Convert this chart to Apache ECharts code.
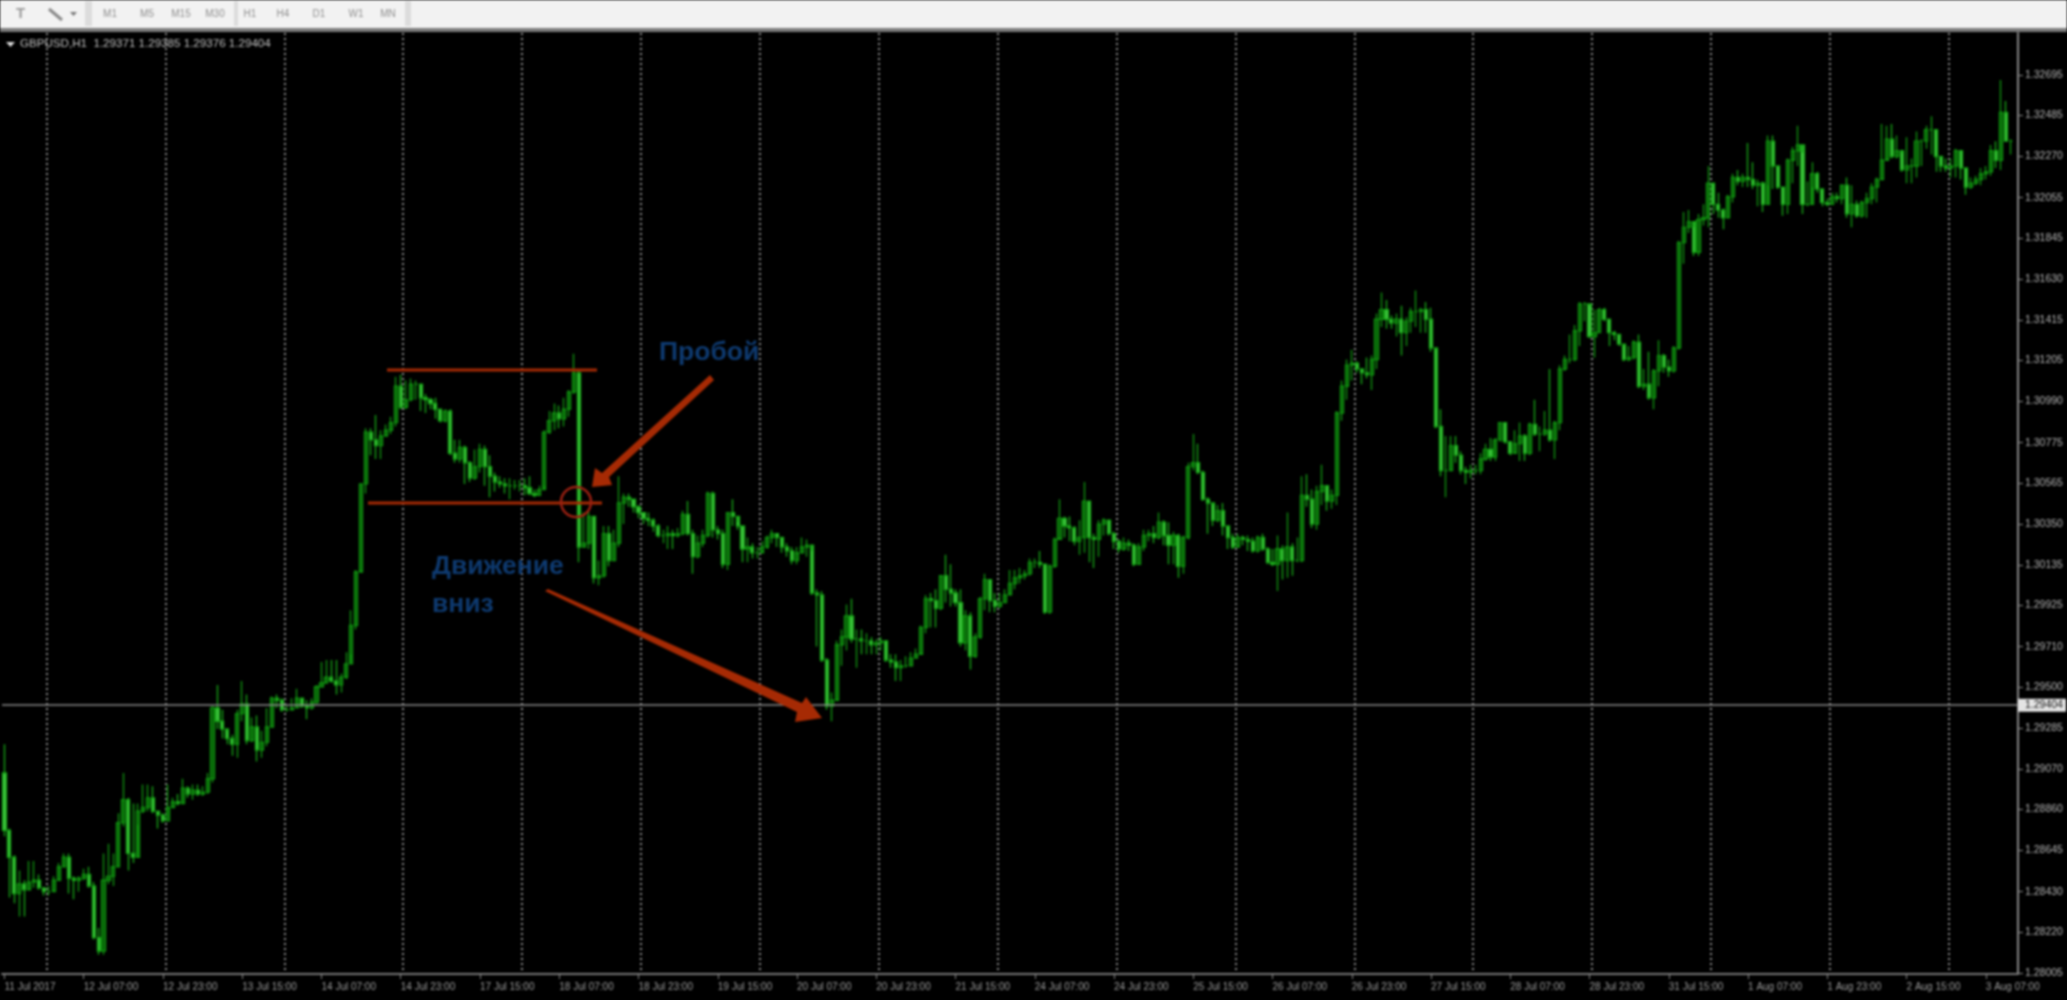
<!DOCTYPE html>
<html>
<head>
<meta charset="utf-8">
<title>GBPUSD,H1</title>
<script src="https://cdn.jsdelivr.net/npm/echarts@6/dist/echarts.min.js"></script>
<style>
html, body { margin: 0; padding: 0; background: #000; }
#chart { width: 2067px; height: 1000px; filter: blur(0.9px); }
</style>
</head>
<body>
<div id="chart"></div>
<script>
// prices are typed as price x 10000
var firstOpen = 12905;
var closes = [
12875,12861,12842,12847,12844,12848,12849,12845,12843,12843,
12849,12856,12861,12850,12849,12850,12852,12846,12819,12812,
12849,12851,12856,12879,12891,12863,12861,12885,12887,12892,
12885,12883,12880,12887,12890,12889,12897,12894,12896,12894,
12895,12902,12939,12932,12928,12923,12920,12936,12941,12922,
12929,12917,12921,12929,12944,12943,12938,12938,12939,12944,
12940,12939,12942,12950,12952,12955,12953,12951,12955,12962,
12982,13010,13056,13083,13079,13076,13081,13084,13088,13107,
13096,13100,13108,13108,13101,13100,13098,13095,13089,13094,
13072,13069,13075,13067,13059,13065,13074,13065,13060,13057,
13056,13055,13055,13055,13055,
13054,13051,13050,13053,13083,13089,
13093,13090,13095,13104,13114,13023,13025,13039,13007,13008,
13030,13016,13025,13046,13049,13048,13044,13041,13038,13037,
13034,13029,13029,13030,13029,13030,13040,13030,13018,13025,
13029,13051,13032,13030,13014,13041,13039,13034,13022,13023,
13020,13020,13023,13028,13030,13028,13023,13021,13016,13020,
13023,13024,12999,12998,12964,12940,12943,12972,12976,12987,
12975,12975,12974,12974,12972,12973,12974,12964,12963,12960,
12961,12961,12965,12967,12981,12996,12995,12991,13008,13001,
12999,12994,12973,12987,12966,12976,12996,13006,12995,12992,
12994,12998,13004,13007,13008,13009,13015,13015,13014,12989,
13013,13027,13038,13034,13033,13026,13028,13047,13028,13027,
13035,13037,13030,13026,13022,13025,13024,13014,13023,13029,
13030,13028,13036,13029,13024,13029,13013,13028,13065,13067,
13062,13048,13046,13037,13042,13034,13028,13023,13028,13027,
13026,13021,13028,13022,13015,13014,13022,13016,13023,13016,
13016,13050,13048,13035,13052,13055,13047,13050,13093,13107,
13118,13119,13116,13114,13113,13121,13142,13147,13142,13140,
13142,13135,13141,13146,13146,13147,13142,13127,13086,13063,
13063,13076,13071,13063,13062,13063,
13063,13069,13074,13070,13079,
13088,13078,13072,13077,13081,13072,13087,13082,13082,13084,
13079,13088,13116,13121,13121,13136,13150,13150,13133,13135,
13147,13142,13135,13134,13129,13121,13122,13130,13107,13108,
13101,13115,13123,13117,13115,13127,
13182,13190,13193,13177,
13194,13195,13213,13202,13199,13195,13206,13216,13214,13216,
13215,13212,13213,13202,13235,13222,13211,13202,13225,13230,
13233,13202,13202,13218,13210,13203,13202,13206,13205,13212,
13197,13202,13196,13203,13205,13211,13215,13225,13236,13227,
13230,13220,13222,13222,13235,13235,13241,13241,13227,13222,
13221,13222,13230,13221,13211,13213,13215,13218,13219,13230,
13225,13250,13235,13235
];
var highs = [
12920,12876,12862,12854,12849,12859,12859,12852,12845,12846,
12851,12858,12863,12863,12851,12851,12855,12856,12848,12824,
12863,12868,12863,12884,12905,12892,12889,12889,12899,12899,
12898,12885,12884,12899,12892,12894,12902,12898,12899,12899,
12898,12905,12940,12951,12938,12927,12925,12938,12953,12946,
12934,12935,12927,12939,12945,12946,12944,12940,12944,12949,
12944,12943,12944,12951,12963,12964,12964,12964,12957,12968,
12990,13011,13056,13085,13085,13092,13084,13087,13091,13112,
13113,13110,13111,13110,13108,13103,13101,13101,13095,13095,
13095,13079,13079,13076,13068,13074,13077,13076,13071,13062,
13060,13059,13059,13058,13058,
13059,13060,13053,13055,13084,13094,
13098,13097,13101,13105,13124,13115,13041,13042,13039,13016,
13034,13034,13032,13060,13051,13051,13048,13045,13041,13041,
13038,13035,13032,13034,13032,13033,13042,13047,13032,13029,
13032,13052,13052,13034,13032,13041,13048,13036,13034,13028,
13025,13023,13026,13029,13032,13030,13028,13025,13023,13023,
13028,13027,13021,13001,13000,12965,12947,12974,12980,12993,
12996,12980,12980,12978,12976,12975,12976,12974,12967,12967,
12964,12966,12968,12970,12982,12998,12999,13001,13008,13019,
13014,13001,13001,12990,12989,12978,12997,13009,13006,12999,
12999,13001,13011,13011,13012,13011,13017,13017,13021,13014,
13014,13028,13048,13039,13039,13034,13037,13057,13047,13030,
13037,13038,13037,13031,13027,13028,13027,13025,13025,13032,
13032,13034,13041,13037,13036,13031,13030,13029,13067,13082,
13077,13063,13049,13045,13045,13046,13034,13030,13030,13029,
13029,13028,13029,13030,13023,13022,13029,13024,13041,13025,
13028,13060,13061,13053,13055,13066,13055,13053,13094,13110,
13121,13126,13120,13116,13122,13123,13145,13156,13152,13144,
13145,13149,13143,13148,13157,13148,13151,13148,13126,13095,
13081,13081,13081,13073,13065,13066,
13066,13072,13077,13080,13080,
13088,13088,13078,13084,13088,13082,13088,13100,13086,13094,
13116,13089,13118,13123,13134,13139,13151,13151,13149,13147,
13148,13148,13142,13136,13134,13128,13128,13131,13134,13116,
13125,13116,13131,13124,13121,13128,
13183,13198,13199,13190,
13197,13202,13222,13213,13208,13200,13207,13218,13220,13218,
13234,13224,13215,13214,13238,13238,13222,13211,13226,13232,
13243,13229,13214,13224,13219,13210,13205,13208,13208,13212,
13216,13212,13204,13204,13208,13213,13216,13244,13243,13244,
13238,13229,13237,13226,13240,13236,13243,13248,13241,13227,
13226,13226,13231,13230,13221,13216,13217,13221,13222,13233,
13235,13267,13256,13236
];
var lows = [
12872,12840,12837,12830,12830,12844,12845,12844,12841,12841,
12844,12849,12856,12842,12839,12843,12849,12845,12818,12810,
12810,12847,12846,12856,12877,12854,12858,12878,12884,12885,
12884,12876,12879,12880,12887,12888,12890,12892,12891,12893,
12893,12894,12900,12928,12923,12920,12914,12913,12932,12920,
12921,12911,12913,12919,12929,12939,12937,12937,12938,12939,
12939,12933,12938,12941,12950,12952,12952,12946,12947,12954,
12967,12980,13011,13051,13071,13069,13069,13081,13082,13086,
13095,13095,13099,13100,13094,13093,13095,13090,13088,13088,
13071,13067,13067,13056,13057,13058,13062,13055,13049,13052,
13054,13051,13048,13053,13052,
13050,13050,13049,13050,13055,13082,
13084,13085,13086,13091,13103,13015,13023,13022,13004,13003,
13007,13013,13016,13023,13035,13044,13041,13038,13035,13034,
13031,13028,13025,13022,13022,13028,13029,13029,13009,13017,
13023,13028,13028,13027,13012,13011,13034,13032,13015,13015,
13017,13017,13021,13022,13025,13023,13020,13018,13014,13014,
13020,13018,12998,12971,12963,12938,12932,12943,12961,12969,
12973,12960,12967,12967,12967,12967,12969,12963,12960,12953,
12953,12960,12961,12965,12968,12978,12981,12981,12990,12994,
12992,12992,12971,12969,12959,12965,12975,12990,12989,12989,
12991,12994,12999,13001,13004,13006,13008,13012,13012,12988,
12988,13012,13028,13028,13026,13024,13019,13020,13015,13012,
13018,13029,13029,13022,13020,13021,13021,13013,13014,13021,
13026,13025,13027,13024,13014,13014,13007,13009,13027,13063,
13061,13047,13030,13034,13036,13029,13022,13022,13024,13024,
13021,13020,13020,13021,13014,13013,13000,13006,13007,13008,
13015,13015,13044,13033,13032,13045,13042,13043,13045,13089,
13100,13110,13114,13108,13111,13105,13116,13138,13137,13137,
13133,13123,13128,13135,13138,13135,13135,13125,13085,13060,
13049,13063,13067,13061,13056,13059,
13061,13061,13068,13068,13068,
13078,13077,13071,13072,13068,13068,13071,13081,13073,13081,
13078,13069,13084,13115,13119,13120,13128,13141,13132,13122,
13135,13141,13128,13131,13128,13120,13120,13121,13106,13105,
13100,13095,13107,13114,13112,13114,
13126,13171,13187,13175,
13175,13191,13190,13197,13195,13189,13195,13203,13212,13211,
13211,13210,13201,13198,13212,13210,13210,13196,13197,13213,
13222,13197,13201,13211,13208,13201,13201,13202,13203,13202,
13195,13190,13195,13195,13195,13202,13203,13215,13226,13226,
13226,13219,13213,13213,13216,13222,13231,13228,13219,13219,
13219,13216,13216,13215,13207,13210,13212,13212,13215,13217,
13221,13220,13235,13228
];
var timeLabels = ['11 Jul 2017','12 Jul 07:00','12 Jul 23:00','13 Jul 15:00','14 Jul 07:00','14 Jul 23:00',
    '17 Jul 15:00','18 Jul 07:00','18 Jul 23:00','19 Jul 15:00','20 Jul 07:00','20 Jul 23:00','21 Jul 15:00',
    '24 Jul 07:00','24 Jul 23:00','25 Jul 15:00','26 Jul 07:00','26 Jul 23:00','27 Jul 15:00','28 Jul 07:00',
    '28 Jul 23:00','31 Jul 15:00','1 Aug 07:00','1 Aug 23:00','2 Aug 15:00','3 Aug 07:00'];
var priceTicks = [1.32695,1.32485,1.32270,1.32055,1.31845,1.31630,1.31415,1.31205,1.30990,1.30775,1.30565,1.30350,
    1.30135,1.29925,1.29710,1.29500,1.29285,1.29070,1.28860,1.28645,1.28430,1.28220,1.28005];
var lastPrice = 1.29404;
var headerText = 'GBPUSD,H1  1.29371 1.29385 1.29376 1.29404';
var periods = [['M1',110],['M5',147],['M15',181],['M30',215],['H1',250],['H4',283],['D1',319],['W1',356],['MN',388]];

// bars per label and per day separator
var labelStep = 16, sepStep = 24, sepStart = 9;

var candles = [], cats = [];
for (var i = 0; i < closes.length; i++) {
    var o = i === 0 ? firstOpen : closes[i - 1];
    candles.push([o / 10000, closes[i] / 10000, lows[i] / 10000, highs[i] / 10000]);
    cats.push(String(i));
}
cats.push(String(closes.length)); // one free slot on the right

var red = '#a62a04', blue = '#0e3a70';
var graphics = [
    { type: 'rect', shape: { x: 0, y: 0, width: 2067, height: 28 }, style: { fill: '#f2f2f2' }, z: 50 },
    { type: 'rect', shape: { x: 0, y: 28, width: 2067, height: 4 }, style: { fill: '#7c7c7c' }, z: 50 },
    { type: 'rect', shape: { x: 85, y: 1, width: 7, height: 25 }, style: { fill: '#dcdcdc' }, z: 51 },
    { type: 'rect', shape: { x: 234, y: 1, width: 4, height: 25 }, style: { fill: '#dcdcdc' }, z: 51 },
    { type: 'rect', shape: { x: 405, y: 1, width: 6, height: 25 }, style: { fill: '#dcdcdc' }, z: 51 },
    { type: 'text', x: 16, y: 6, style: { text: 'T', font: 'bold 15px "Liberation Sans"', fill: '#9a9a9a' }, z: 51 },
    { type: 'polyline', shape: { points: [[49, 9], [62, 20]] }, style: { stroke: '#8a8a8a', lineWidth: 3 }, z: 51 },
    { type: 'polygon', shape: { points: [[70, 12], [77, 12], [73.5, 16]] }, style: { fill: '#777' }, z: 51 },
    { type: 'polygon', shape: { points: [[6, 42], [15, 42], [10.5, 47]] }, style: { fill: '#ddd' }, z: 51 },
    { type: 'text', x: 20, y: 38, style: { text: headerText, font: '11.6px "Liberation Sans"', fill: '#c0c0c0' }, z: 51 },

    // support and resistance drawn over the chart
    { type: 'line', shape: { x1: 387, y1: 370, x2: 597, y2: 370 }, style: { stroke: red, lineWidth: 3 }, z: 60 },
    { type: 'line', shape: { x1: 368, y1: 503, x2: 602, y2: 503 }, style: { stroke: red, lineWidth: 3 }, z: 60 },
    { type: 'circle', shape: { cx: 576, cy: 502, r: 15 }, style: { fill: 'none', stroke: '#9c2012', lineWidth: 2.5 }, z: 60 },
    { type: 'polygon', shape: { points: [[710, 375], [714, 380], [609, 477], [612, 485], [592, 487], [595, 468], [602, 473]] }, style: { fill: red }, z: 60 },
    { type: 'polygon', shape: { points: [[548, 589], [802, 703], [806, 697], [822, 718], [795, 722], [797, 712], [545, 591]] }, style: { fill: red }, z: 60 },
    { type: 'text', x: 659, y: 339, style: { text: 'Пробой', font: 'bold 26.5px "Liberation Sans"', fill: blue }, z: 60 },
    { type: 'text', x: 432, y: 553, style: { text: 'Движение', font: 'bold 26.5px "Liberation Sans"', fill: blue }, z: 60 },
    { type: 'text', x: 432, y: 591, style: { text: 'вниз', font: 'bold 26.5px "Liberation Sans"', fill: blue }, z: 60 }
];
periods.forEach(function (p) {
    graphics.push({ type: 'text', x: p[1], y: 14, style: { text: p[0], font: '10px "Liberation Sans"', fill: '#8f8f8f', textAlign: 'center', textVerticalAlign: 'middle' }, z: 51 });
});

var dom = document.getElementById('chart');
var myChart = echarts.init(dom, null, { renderer: 'canvas' });

var option = {
    animation: false,
    backgroundColor: '#000',
    graphic: graphics,
    grid: { left: 2, right: 49, top: 33, bottom: 26, containLabel: false },
    xAxis: {
        type: 'category',
        data: cats,
        boundaryGap: true,
        axisLine: { show: true, onZero: false, lineStyle: { color: '#777', width: 2 } },
        axisTick: {
            show: true, alignWithLabel: true, length: 5,
            lineStyle: { color: '#888' },
            interval: function (idx) { return idx % labelStep === 0; }
        },
        axisLabel: {
            show: true, align: 'left', color: '#9c9c9c', fontSize: 10, margin: 8,
            fontFamily: 'Liberation Sans', hideOverlap: false,
            interval: function (idx) { return idx % labelStep === 0; },
            formatter: function (v, idx) { return timeLabels[idx / labelStep] || ''; }
        },
        splitLine: {
            show: true,
            lineStyle: { color: '#a0a0a0', type: [2, 3], width: 1.8 },
            interval: function (idx) { return (idx - sepStart) % sepStep === 0 && idx >= sepStart; }
        }
    },
    yAxis: {
        type: 'value',
        position: 'right',
        scale: true,
        min: 1.28,
        max: 1.32915,
        splitLine: { show: false },
        axisLine: { show: true, onZero: false, lineStyle: { color: '#888', width: 2 } },
        axisTick: { show: true, length: 5, inside: false, lineStyle: { color: '#888' }, customValues: priceTicks },
        axisLabel: {
            color: '#b4b4b4', fontSize: 10.5, margin: 7, fontFamily: 'Liberation Sans',
            customValues: priceTicks,
            formatter: function (v) { return v.toFixed(5); }
        }
    },
    series: [{
        name: 'GBPUSD,H1',
        type: 'candlestick',
        data: candles,
        barWidth: 3.6,
        clip: false,
        itemStyle: {
            color: '#076007',
            color0: '#3fc43f',
            borderColor: '#0f900f',
            borderColor0: '#15a015',
            borderWidth: 1.4
        },
        markLine: {
            silent: true,
            symbol: 'none',
            animation: false,
            precision: 5,
            lineStyle: { color: '#8a8a8a', type: 'solid', width: 1.5 },
            label: {
                show: true, position: 'end', distance: 0,
                formatter: function () { return lastPrice.toFixed(5); },
                color: '#111', backgroundColor: '#e4e4e4', fontSize: 10.5,
                fontFamily: 'Liberation Sans', padding: [1, 3, 1, 7]
            },
            data: [{ yAxis: lastPrice }]
        }
    }]
};
myChart.setOption(option);
</script>
</body>
</html>
